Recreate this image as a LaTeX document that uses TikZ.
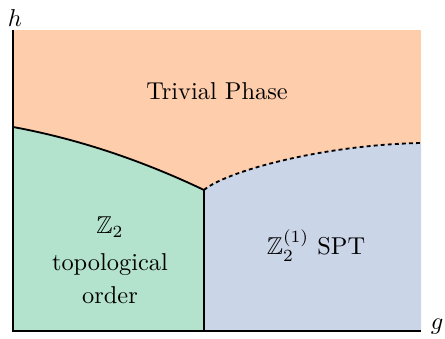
\documentclass[tikz,border=0pt]{standalone}
\usepackage{amsmath,amssymb}
\usepackage{xcolor}
\usetikzlibrary{positioning, calc}

\begin{document}
\begin{tikzpicture}[x=0.41pt,y=0.41pt]
  \tikzstyle{axis}=[line width=1.2pt]
  \tikzstyle{border}=[line width=0.75pt]
  \tikzstyle{crossover}=[line width=0.75pt,dash pattern=on 1.6pt off 1.3pt]
  \tikzstyle{label}=[inner sep=0pt,align=center]
  \colorlet{trivialcol}{orange!35!red!10!white}
  \definecolor{trivialcol}{HTML}{FDCDAC}
  \definecolor{topocol}{HTML}{B3E2CD}
  \definecolor{sptcol}{HTML}{CBD5E8}

  \useasboundingbox (0,0) rectangle (445,339);

  \def\X{13}
  \def\Y{8}
  \def\W{421}
  \def\H{309}

  \coordinate (origin) at (\X,\Y);
  \coordinate (triple) at (204,149);
  \coordinate (left) at (\X,212);
  \coordinate (right) at (\W,196);
  \coordinate (foot) at (204,\Y);

  % PHASES
  \fill[trivialcol] (origin) rectangle (\W,\H);
  \fill[topocol] (origin) -- (left)
  .. controls (76.7,200.3) and (140.3,179.3) .. (triple) -- (foot) -- cycle;
  \fill[sptcol] (foot) -- (triple)
  .. controls (225,167) and (320,194) .. (right) -- (\W,\Y) -- cycle;

  % BOUNDARIES
  \draw[border] (left) .. controls (76.7,200.3) and (140.3,179.3) .. (triple) -- (foot);
  \draw[crossover] (triple) .. controls (225,167) and (320,194) .. (right);

  % AXES
  \draw[axis] (\X,\H) -- (origin) -- (\W,\Y);
  \node[label] (h) at (15,321) {$h$};
  \node[label] (g) at (437,12) {$g$};

  % LABELS
  \node[label] (trivial) at (217,248) {Trivial Phase};
  \node[label] (topo) at (110,79) {$\mathbb{Z}_2$\\[3pt]topological\\[1.5pt]order};
  \node[label,anchor=base] (spt) at (316,84) {$\mathbb{Z}_2^{(1)}$ SPT};
\end{tikzpicture}
\end{document}
